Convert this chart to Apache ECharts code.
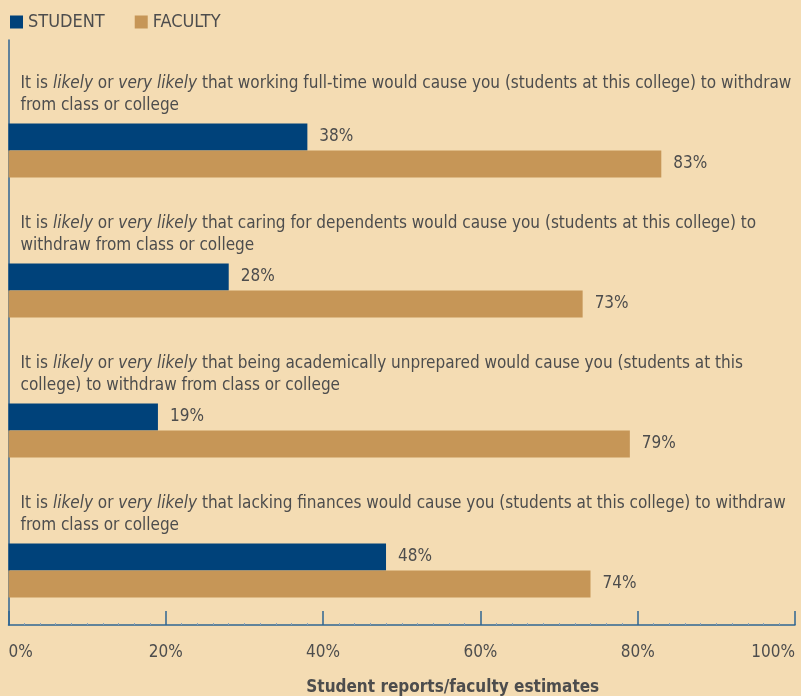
<!DOCTYPE html>
<html>
<head>
<meta charset="utf-8">
<script src="https://cdn.jsdelivr.net/npm/echarts@6/dist/echarts.min.js"></script>
<style>
  html, body { margin: 0; padding: 0; background: #f4dcb3; }
  #chart { width: 801px; height: 696px; }
</style>
</head>
<body>
<div id="chart"></div>
<script>
// question texts (rich-text pieces: n = normal, i = italic)
var questions = [
  "{n|It is }{i|likely}{n| or }{i|very likely}{n| that working full-time would cause you (students at this college) to withdraw}\n{n|from class or college}",
  "{n|It is }{i|likely}{n| or }{i|very likely}{n| that caring for dependents would cause you (students at this college) to}\n{n|withdraw from class or college}",
  "{n|It is }{i|likely}{n| or }{i|very likely}{n| that being academically unprepared would cause you (students at this}\n{n|college) to withdraw from class or college}",
  "{n|It is }{i|likely}{n| or }{i|very likely}{n| that lacking finances would cause you (students at this college) to withdraw}\n{n|from class or college}"
];
var studentValues = [38, 28, 19, 48];
var facultyValues = [83, 73, 79, 74];
var tickValues = [0, 20, 40, 60, 80, 100];

var font = '"Liberation Sans Narrow", "DejaVu Sans Condensed", sans-serif';
var textColor = '#4d4d4d';
var axisColor = '#2f6593';

var chart = echarts.init(document.getElementById('chart'));

var option = {
  backgroundColor: '#f4dcb3',
  textStyle: { fontFamily: font },
  legend: {
    left: 5,
    top: 8,
    itemWidth: 13,
    itemHeight: 13,
    itemGap: 30,
    icon: 'rect',
    textStyle: { color: textColor, fontSize: 18, fontFamily: font },
    data: ['STUDENT', 'FACULTY']
  },
  grid: [
    // frame grid: axes only
    { left: 8.5, right: 6, top: 40, height: 585, outerBoundsMode: 'none', containLabel: false },
    // bar grid
    { left: 8.5, right: 6, top: 80.5, height: 560, outerBoundsMode: 'none', containLabel: false }
  ],
  xAxis: [
    {
      gridIndex: 0,
      type: 'value',
      min: 0,
      max: 100,
      interval: 20,
      axisLine: { show: true, lineStyle: { color: axisColor, width: 1.5 } },
      axisTick: { show: true, inside: true, length: 14, lineStyle: { color: axisColor, width: 1.5 } },
      minorTick: { show: true, splitNumber: 10, length: 2, lineStyle: { color: '#8aa3ba', width: 1 } },
      splitLine: { show: false },
      axisLabel: {
        margin: 19,
        color: textColor,
        fontSize: 17,
        fontFamily: font,
        alignMinLabel: 'left',
        alignMaxLabel: 'right',
        formatter: function (v) { return tickValues.indexOf(v) >= 0 ? v + '%' : ''; }
      },
      name: 'Student reports/faculty estimates',
      nameLocation: 'middle',
      nameGap: 54,
      nameTextStyle: {
        color: textColor,
        fontSize: 17,
        fontWeight: 'bold',
        fontFamily: font,
        padding: [0, 0, 0, 102]
      }
    },
    {
      gridIndex: 1,
      type: 'value',
      min: 0,
      max: 100,
      show: false
    }
  ],
  yAxis: [
    {
      gridIndex: 0,
      type: 'value',
      min: 0,
      max: 1,
      axisLine: { show: true, lineStyle: { color: axisColor, width: 1.5 } },
      axisTick: { show: false },
      axisLabel: { show: false },
      splitLine: { show: false }
    },
    {
      gridIndex: 1,
      type: 'category',
      inverse: true,
      data: questions,
      axisLine: { show: false },
      axisTick: { show: false },
      splitLine: { show: false },
      axisLabel: {
        inside: true,
        margin: 12,
        verticalAlign: 'bottom',
        padding: [0, 0, 34, 0],
        formatter: function (v) { return v; },
        rich: {
          n: { color: textColor, fontSize: 17, lineHeight: 22, fontFamily: font },
          i: { color: textColor, fontSize: 17, lineHeight: 22, fontFamily: font, fontStyle: 'italic' }
        }
      },
      z: 10
    }
  ],
  series: [
    {
      name: 'STUDENT',
      type: 'bar',
      xAxisIndex: 1,
      yAxisIndex: 1,
      data: studentValues,
      barWidth: 27,
      barGap: '0%',
      itemStyle: { color: '#00427a' },
      label: {
        show: true,
        position: 'right',
        distance: 12,
        color: textColor,
        fontSize: 17,
        fontFamily: font,
        formatter: '{c}%'
      }
    },
    {
      name: 'FACULTY',
      type: 'bar',
      xAxisIndex: 1,
      yAxisIndex: 1,
      data: facultyValues,
      barWidth: 27,
      barGap: '0%',
      itemStyle: { color: '#c69657' },
      label: {
        show: true,
        position: 'right',
        distance: 12,
        color: textColor,
        fontSize: 17,
        fontFamily: font,
        formatter: '{c}%'
      }
    }
  ]
};

chart.setOption(option);
</script>
</body>
</html>
